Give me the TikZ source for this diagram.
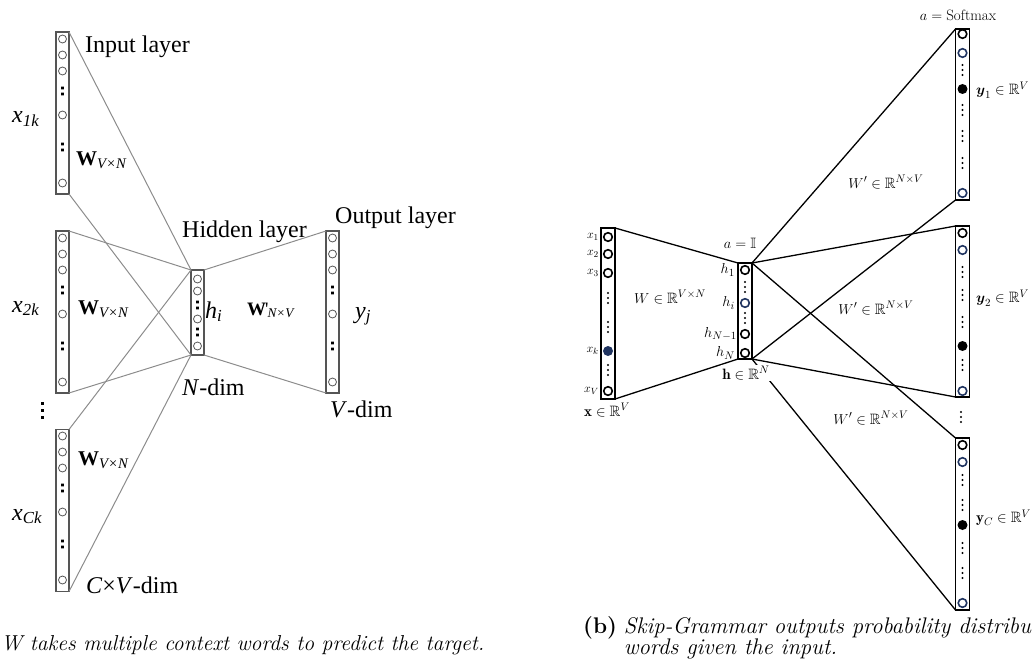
\documentclass[tikz,border=0pt]{standalone}
\usepackage{amsmath,amssymb}
\usepackage{fontspec}
\newfontfamily\timesfont{Liberation Serif}
\definecolor{boxgray}{RGB}{85,85,85}
\definecolor{wiregray}{RGB}{140,140,140}
\definecolor{navyunit}{RGB}{32,52,96}
\tikzset{
  lcol/.style={draw=boxgray,line width=1.3pt,minimum width=13pt,minimum height=162pt,inner sep=0,outer sep=0},
  lunit/.style={draw=boxgray,line width=0.8pt},
  lwire/.style={wiregray,line width=1pt},
  llabel/.style={font=\timesfont\fontsize{24}{26}\selectfont,inner sep=0},
  lmat/.style={font=\timesfont\bfseries\fontsize{21}{24}\selectfont,inner sep=0},
  lvar/.style={font=\timesfont\itshape\fontsize{24}{28}\selectfont,inner sep=0},
  rcol/.style={draw=black,line width=1.8pt,minimum width=14pt,minimum height=171pt,inner sep=0,outer sep=0},
  runit/.style={line width=1.6pt},
  rwire/.style={black,line width=1.3pt},
  rlabel/.style={font=\fontsize{15}{17}\selectfont,inner sep=1pt},
  rsmall/.style={font=\fontsize{13}{15}\selectfont,inner sep=0},
  caption/.style={inner sep=0,anchor=base west},
}
\begin{document}
\begin{tikzpicture}[x=1pt,y=-1pt]
  \useasboundingbox (0,0) rectangle (1035,666);
  % CBOW
  \node[lcol] (in1) at (62.5,113) {};
  \node[lcol] (in2) at (62.5,312) {};
  \node[lcol] (in3) at (62.5,510.5) {};
  \node[lcol,minimum height=85pt] (hid) at (197.5,312.5) {};
  \node[lcol] (out) at (332.5,312) {};
  \foreach \cx/\top in {62.5/32,62.5/231,62.5/429,332.5/231} {
    \foreach \o in {7,23,39,83,151}
      \draw[lunit] ({\cx},{\top+\o}) circle (4);
    \foreach \o in {59,115}
      \fill[black] ({\cx-1.3},{\top+\o-4.3}) rectangle ++(2.6,2.6)
                   ({\cx-1.3},{\top+\o+1.7}) rectangle ++(2.6,2.6);
  }
  \foreach \y in {279,291,319,346}
    \draw[lunit] (197.5,\y) circle (4);
  \foreach \y in {305,332}
    \fill[black] (196.2,{\y-4.3}) rectangle ++(2.6,2.6)
                 (196.2,{\y+1.7}) rectangle ++(2.6,2.6);
  \foreach \y in {403,410,417}
    \fill[black] (41.2,{\y-1.5}) rectangle ++(3,3);
  \draw[lwire] (in1.north east) -- (hid.north west);
  \draw[lwire] (in1.south east) -- (hid.south west);
  \draw[lwire] (in2.north east) -- (hid.north west);
  \draw[lwire] (in2.south east) -- (hid.south west);
  \draw[lwire] (in3.north east) -- (hid.north west);
  \draw[lwire] (in3.south east) -- (hid.south west);
  \draw[lwire] (hid.north east) -- (out.north west);
  \draw[lwire] (hid.south east) -- (out.south west);
  \node[llabel,anchor=base west] (inlab) at (85,53) {Input layer};
  \node[llabel,anchor=base west] (hidlab) at (182,237) {Hidden layer};
  \node[llabel,anchor=base west] (outlab) at (335,223) {Output layer};
  \node[llabel,anchor=base west] (ndim) at (182,395) {\textit{N}-dim};
  \node[llabel,anchor=base west] (vdim) at (330,417) {\textit{V}-dim};
  \node[llabel,anchor=base west] (cvdim) at (86,593) {\textit{C}×\textit{V}-dim};
  \node[lvar,anchor=base west] (x1k) at (12,123) {x\textsubscript{\itshape 1k}};
  \node[lvar,anchor=base west] (x2k) at (12,312) {x\textsubscript{\itshape 2k}};
  \node[lvar,anchor=base west] (xck) at (12,520) {x\textsubscript{\itshape Ck}};
  \node[lmat,anchor=base west] (w1) at (76,165) {W\textsubscript{\mdseries\itshape V×N}};
  \node[lmat,anchor=base west] (w2) at (78,314) {W\textsubscript{\mdseries\itshape V×N}};
  \node[lmat,anchor=base west] (w3) at (78,465) {W\textsubscript{\mdseries\itshape V×N}};
  \node[lmat,anchor=base west,font=\timesfont\bfseries\fontsize{19}{22}\selectfont] (wout) at (247,315) {W\mdseries\kern-1pt'\kern-1pt\textsubscript{\itshape N×V}};
  \node[lvar,anchor=base west] (hi) at (205,318) {h\textsubscript{\itshape i}};
  \node[lvar,anchor=base west] (yj) at (355,318) {y\textsubscript{\itshape j}};
  % Skip-gram
  \node[rcol] (rin) at (608,313.5) {};
  \node[rcol,minimum height=96pt] (rhid) at (745,311) {};
  \node[rcol] (ry1) at (962.5,114.5) {};
  \node[rcol] (ry2) at (962.5,311.5) {};
  \node[rcol,minimum height=172pt] (ry3) at (962.5,524) {};
  \foreach \cx/\y in {608/237,608/254,608/273,608/391,745/270,745/334,745/353,
                      962.5/34,962.5/233,962.5/445}
    \draw[runit] (\cx,\y) circle (4.3);
  \foreach \cx/\y in {745/303,962.5/53,962.5/193,962.5/250,962.5/391,962.5/462,962.5/603}
    \draw[runit,navyunit] (\cx,\y) circle (4.3);
  \fill[navyunit] (608,351) circle (5);
  \foreach \y in {89,346,525}
    \fill[black] (962.5,\y) circle (5);
  \foreach \cx/\y in {608/298,608/327,608/370,745/287,745/318,
                      962.5/70,962.5/110,962.5/136,962.5/163,
                      962.5/272,962.5/295,962.5/322,962.5/365,
                      962.5/480,962.5/505,962.5/548,962.5/573,961/417}
    \foreach \d in {-5,0,5}
      \fill[black] (\cx,{\y+\d}) circle (1.1);
  \draw[rwire] (rin.north east) -- (rhid.north west);
  \draw[rwire] (rin.south east) -- (rhid.south west);
  \draw[rwire] (rhid.north east) -- (ry1.north west);
  \draw[rwire] (rhid.south east) -- (ry1.south west);
  \draw[rwire] (rhid.north east) -- (ry2.north west);
  \draw[rwire] (rhid.south east) -- (ry2.south west);
  \draw[rwire] (rhid.north east) -- (ry3.north west);
  \draw[rwire] (rhid.south east) -- (ry3.south west);
  \node[rsmall,anchor=east] (lx1) at (599,237) {$x_1$};
  \node[rsmall,anchor=east] (lx2) at (599,254) {$x_2$};
  \node[rsmall,anchor=east] (lx3) at (599,273) {$x_3$};
  \node[rsmall,anchor=east] (lxk) at (599,351) {$x_k$};
  \node[rsmall,anchor=east] (lxv) at (599,391) {$x_V$};
  \node[rlabel,anchor=east] (lh1) at (736,270) {$h_1$};
  \node[rlabel,anchor=east] (lhi) at (736,303) {$h_i$};
  \node[rlabel,anchor=east] (lhn1) at (738,334) {$h_{N-1}$};
  \node[rlabel,anchor=east] (lhn) at (736,353) {$h_N$};
  \node[rlabel] (xin) at (607,410) {$\mathbf{x}\in\mathbb{R}^V$};
  \node[rlabel,fill=white] (hin) at (746,373) {$\mathbf{h}\in\mathbb{R}^N$};
  \node[rlabel] (aid) at (740,243) {$a=\mathbb{I}$};
  \node[rlabel] (asm) at (958,15) {$a=\mathrm{Softmax}$};
  \node[rlabel] (wlab) at (670,297) {$W\in\mathbb{R}^{V\times N}$};
  \node[rlabel] (wp1) at (886,182) {$W'\in\mathbb{R}^{N\times V}$};
  \node[rlabel] (wp2) at (876,308) {$W'\in\mathbb{R}^{N\times V}$};
  \node[rlabel] (wp3) at (871,418) {$W'\in\mathbb{R}^{N\times V}$};
  \node[rlabel,anchor=west] (y1) at (975,90) {$\boldsymbol{y}_1\in\mathbb{R}^V$};
  \node[rlabel,anchor=west] (y2) at (975,298) {$\boldsymbol{y}_2\in\mathbb{R}^V$};
  \node[rlabel,anchor=west] (yc) at (975,518) {$\mathbf{y}_C\in\mathbb{R}^V$};
  % captions
  \node[caption,font=\fontsize{21.6}{24}\selectfont] (capa) at (1,650) {\textit{W takes multiple context words to predict the target.}};
  \node[caption,font=\fontsize{22.6}{20}\selectfont] (capb) at (583,633)
    {\begin{tabular}[t]{@{}l@{\ }l@{}}
       \textbf{(b)} & \textit{Skip-Grammar outputs probability distribu}\\
                    & \textit{words given the input.}
     \end{tabular}};
\end{tikzpicture}
\end{document}
